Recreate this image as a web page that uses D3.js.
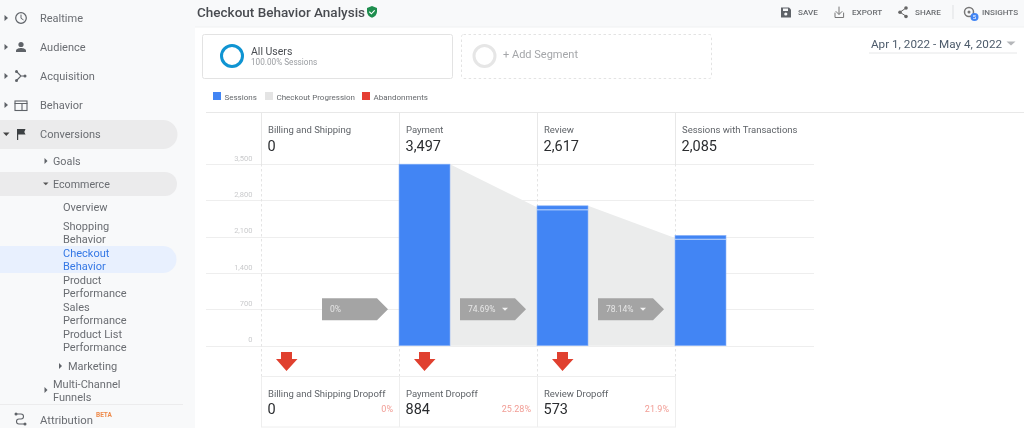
<!DOCTYPE html>
<html><head><meta charset="utf-8">
<script src="https://cdn.jsdelivr.net/npm/d3@7/dist/d3.min.js"></script>
<style>html,body{margin:0;padding:0;background:#fff;overflow:hidden}svg{display:block;font-family:Roboto,sans-serif;filter:blur(.35px)}</style>
</head><body><svg id="c" width="1024" height="428"></svg>
<script>
// ---- data ----
const steps = ["Billing and Shipping","Payment","Review","Sessions with Transactions"];
const sessions = [0,3497,2617,2085];
const barTops = [0,3497,2695,2125];
const markers = [2617,2050];
const progressionEnds = [2666,2075];
const conversionRates = ["0%","74.69%","78.14%"];
const dropoffLabels = ["Billing and Shipping Dropoff","Payment Dropoff","Review Dropoff"];
const dropoffs = [0,884,573];
const dropoffRates = ["0%","25.28%","21.9%"];
const yTicks = [0,700,1400,2100,2800,3500];
const legendLabels = ["Sessions","Checkout Progression","Abandonments"];
const navTop = ["Realtime","Audience","Acquisition","Behavior","Conversions"];
const navSub = ["Overview","Shopping","Behavior","Checkout","Behavior","Product","Performance","Sales","Performance","Product List","Performance"];
const fmt = d3.format(",");

const svg = d3.select("#c");
const txt = (x,y,s,size,fill,o={}) => svg.append("text").attr("x",x).attr("y",y).text(s)
  .attr("font-size",size).attr("fill",fill).attr("font-weight",o.w||400).attr("text-anchor",o.a||"start");
const rect = (x,y,w,h,fill,r=0) => svg.append("rect").attr("x",x).attr("y",y).attr("width",w).attr("height",h).attr("fill",fill).attr("rx",r);
const path = (d,fill,o={}) => svg.append("path").attr("d",d).attr("fill",fill).attr("stroke",o.s||"none").attr("stroke-width",o.sw||0).attr("stroke-linecap","round");

// ---- sidebar & header backgrounds ----
rect(0,0,1024,27,"#f8f9fa");
rect(0,0,195,428,"#f8f9fa");
svg.append("line").attr("x1",195).attr("x2",1024).attr("y1",27).attr("y2",27).attr("stroke","#f0f1f2");

const gray="#5f6368", navText="#6a6d72";
// pills
svg.append("path").attr("d","M0 120H163a14.5 14.5 0 0 1 0 29H0Z").attr("fill","#ebebec");
svg.append("path").attr("d","M0 172H165a12 12 0 0 1 0 24H0Z").attr("fill","#ebebec");
svg.append("path").attr("d","M0 246H163a13.5 13.5 0 0 1 0 27H0Z").attr("fill","#e8f0fe");

const navY=[18,47,76,105,134];
navTop.forEach((n,i)=>{ txt(40,navY[i]+4,n,11,navText);
  if(i<4) path(`M4.5 ${navY[i]-3}l3.5 3l-3.5 3z`,gray);
  else path(`M3 ${navY[i]-1.5}h6.5l-3.2 3.5z`,"#444");
});
// icons
svg.append("circle").attr("cx",21).attr("cy",18).attr("r",5.3).attr("fill","none").attr("stroke",gray).attr("stroke-width",1.2);
path("M21 15v3.3l2.2 1.4","none",{s:gray,sw:1});
svg.append("circle").attr("cx",21).attr("cy",44.5).attr("r",2.6).attr("fill",gray);
path("M16 52v-1.5c0-1.8 3-2.6 5-2.6s5 .8 5 2.6V52z",gray);
path("M17 72l4 4-4 4M21 76h4","none",{s:gray,sw:1.1});
[[16.5,71.5],[16.5,80.5],[25,76]].forEach(p=>svg.append("circle").attr("cx",p[0]).attr("cy",p[1]).attr("r",1.5).attr("fill",gray));
svg.append("rect").attr("x",15).attr("y",101).attr("width",12).attr("height",9.5).attr("fill","none").attr("stroke",gray).attr("stroke-width",1.1);
path("M15 103.5h12M22 103.5v7","none",{s:gray,sw:1.1});
path("M17 129h8.5l-1.2 3 1.2 2.5H18.2V140H17z","#3c4043");

txt(53,165,"Goals",10.8,navText); path("M44.5 158l3 3-3 3z",gray);
txt(53,188,"Ecommerce",10.7,navText); path("M43 182.5h5.5l-2.7 2.8z","#555");
const subY=[211,230,243,257,270,284,297,311,324,338,351];
navSub.forEach((n,i)=>txt(63,subY[i],n,11,(i==3||i==4)?"#3578e5":navText));
txt(68,370,"Marketing",11,navText); path("M59 363l3 3-3 3z",gray);
txt(53,388,"Multi-Channel",11,navText); txt(53,401,"Funnels",11,navText); path("M44.5 387l3 3-3 3z",gray);
svg.append("line").attr("x1",0).attr("x2",183).attr("y1",404.5).attr("y2",404.5).attr("stroke","#ececed");
txt(40,424,"Attribution",11.3,navText);
txt(96,417,"BETA",6.5,"#ee8a4a",{w:700});
path("M16 414h5a2.5 2.5 0 0 1 0 5h-2a2.5 2.5 0 0 0 0 5h5","none",{s:gray,sw:1.1});
[[16,414],[25,424]].forEach(p=>svg.append("circle").attr("cx",p[0]).attr("cy",p[1]).attr("r",1.5).attr("fill",gray));

// ---- title ----
txt(197,17,"Checkout Behavior Analysis",13.5,"#484b50",{w:500});
path("M372 6l5 2v3.5c0 3-2 5.3-5 6.3-3-1-5-3.3-5-6.3V8z","#1e8e4e");
path("M369.6 12l1.8 1.8 3-3.2","none",{s:"#fff",sw:1.1});

// ---- toolbar ----
const tb=[["SAVE",798],["EXPORT",852],["SHARE",915],["INSIGHTS",982]];
tb.forEach(t=>txt(t[1],15,t[0],8.1,"#6b6e72",{w:500}));
path("M781 7.5h8l2 2v8h-10z","#5f6368");
rect(783,8.5,5,2.5,"#f8f9fa"); svg.append("circle").attr("cx",785.8).attr("cy",14).attr("r",1.6).attr("fill","#f8f9fa");
path("M839 7v7M836 11.5l3 3 3-3M835 13v4.5h8.6V13","none",{s:"#777",sw:1});
path("M906 8l-6 4.2 6 4","none",{s:"#666",sw:1});
[[906,8],[900,12.2],[906,16.5]].forEach(p=>svg.append("circle").attr("cx",p[0]).attr("cy",p[1]).attr("r",1.8).attr("fill","#666"));
svg.append("line").attr("x1",953).attr("x2",953).attr("y1",5).attr("y2",19).attr("stroke","#dfe1e3");
svg.append("circle").attr("cx",969).attr("cy",12).attr("r",4.5).attr("fill","none").attr("stroke","#777").attr("stroke-width",1.5);
svg.append("circle").attr("cx",969).attr("cy",12).attr("r",1.5).attr("fill","#777");
svg.append("circle").attr("cx",974.5).attr("cy",17).attr("r",4).attr("fill","#4285f4");
txt(974.5,19.2,"5",6,"#fff",{a:"middle"});

// ---- segments ----
svg.append("rect").attr("x",202.5).attr("y",34.5).attr("width",250).attr("height",44).attr("rx",2).attr("fill","#fff").attr("stroke","#e3e3e3");
svg.append("circle").attr("cx",232).attr("cy",56).attr("r",10.5).attr("fill","none").attr("stroke","#0f94d2").attr("stroke-width",3);
txt(251,54.5,"All Users",10.5,"#4a4d52");
txt(251,65,"100.00% Sessions",8.2,"#9a9da1");
svg.append("rect").attr("x",461.5).attr("y",34.5).attr("width",250).attr("height",44).attr("rx",2).attr("fill","#fff").attr("stroke","#e3e3e3").attr("stroke-dasharray","2.5 2.5");
svg.append("circle").attr("cx",484.5).attr("cy",56).attr("r",10.5).attr("fill","none").attr("stroke","#e6e6e6").attr("stroke-width",3);
txt(503,58,"+ Add Segment",11,"#a4a6a9");
txt(871,47.5,"Apr 1, 2022 - May 4, 2022",11.7,"#4d5b6b");
path("M1006.5 41.5h9l-4.5 4z","#b5b7ba");
svg.append("line").attr("x1",869).attr("x2",1017).attr("y1",53).attr("y2",53).attr("stroke","#e6e7e8");

// ---- legend ----
const lgColor=["#4285f4","#e4e4e4","#e53e33"], lgX=[213,265,362];
legendLabels.forEach((l,i)=>{ rect(lgX[i],92,8,8,lgColor[i]); txt(lgX[i]+11.5,99.5,l,8,"#66696d"); });

// ---- scales ----
const x = d3.scaleBand().domain(steps).range([261,813]).padding(0);
const y = d3.scaleLinear().domain([0,3500]).range([345.7,164]);
const barW = 51;

// ---- structure lines ----
const lineC="#eeeeee";
svg.append("line").attr("x1",206).attr("x2",1024).attr("y1",112.5).attr("y2",112.5).attr("stroke","#e8e8e8");

// grid + axis
const axis = d3.axisLeft(y).tickValues(yTicks).tickSize(0).tickFormat(fmt);
const gAxis = svg.append("g").attr("transform","translate(252.5,0)").call(axis);
gAxis.select(".domain").remove();
gAxis.selectAll("text").attr("font-size",7.5).attr("fill","#c9cacc").attr("font-family","Roboto,sans-serif").attr("x",0).attr("dy","-0.12em").attr("transform","translate(0,-3)");
svg.append("g").selectAll("line").data(yTicks).join("line")
  .attr("x1",206).attr("x2",814).attr("y1",d=>Math.round(y(d))+.5).attr("y2",d=>Math.round(y(d))+.5)
  .attr("stroke",lineC).attr("stroke-width",1);

// column separators
svg.append("g").selectAll("line").data(steps).join("line")
  .attr("x1",d=>x(d)+.5).attr("x2",d=>x(d)+.5).attr("y1",112).attr("y2",164).attr("stroke","#e8e8e8");
svg.append("g").selectAll("line").data(steps).join("line")
  .attr("x1",d=>x(d)+.5).attr("x2",d=>x(d)+.5).attr("y1",164).attr("y2",377).attr("stroke","#e4e4e4").attr("stroke-dasharray","2.5 2.5");

// wedges
const wedgePairs = d3.pairs(steps.slice(1)).map((p,i)=>({from:p[0],to:p[1],a:barTops[i+1],b:progressionEnds[i]}));
svg.append("g").selectAll("path").data(wedgePairs).join("path")
  .attr("fill","#ebecec")
  .attr("d",d=>d3.area().x(p=>p[0]).y0(y(0)).y1(p=>y(p[1]))([[x(d.from)+barW,d.a],[x(d.to),d.b]]));

// bars
svg.append("g").selectAll("rect").data(steps).join("rect")
  .attr("x",d=>x(d)).attr("width",barW)
  .attr("y",(d,i)=>y(barTops[i])).attr("height",(d,i)=>y(0)-y(barTops[i]))
  .attr("fill","#4285f4").attr("stroke","#8fb6f8").attr("stroke-width",.6);
// white marker where progressed sessions begin
svg.append("g").selectAll("line").data(steps.slice(2)).join("line")
  .attr("x1",d=>x(d)).attr("x2",d=>x(d)+barW)
  .attr("y1",(d,i)=>y(markers[i])).attr("y2",(d,i)=>y(markers[i]))
  .attr("stroke","#c4d9fb").attr("stroke-width",1);

// column headers
steps.forEach((s,i)=>{ txt(x(s)+7,132.5,s,9.5,"#5f6368"); txt(x(s)+6.5,151,fmt(sessions[i]),14.5,"#2b2d30"); });

// callouts
const cy=y(700);
svg.append("g").selectAll("path").data(conversionRates).join("path")
  .attr("fill","#a4a4a4")
  .attr("d",(d,i)=>{const tip=x(steps[i+1])-11;return `M${tip-66} ${cy-11}H${tip-11}L${tip} ${cy}L${tip-11} ${cy+11}H${tip-66}Z`;});
conversionRates.forEach((r,i)=>{const tip=x(steps[i+1])-11;
  txt(tip-58,cy+3,r,8.5,"#e6e6e6");
  if(i>0) path(`M${tip-24} ${cy-1.5}h6l-3 3z`,"#f2f2f2");
});

// arrows
svg.append("g").selectAll("path").data(dropoffs).join("path")
  .attr("fill","#e0402f")
  .attr("d",(d,i)=>{const c=x(steps[i])+25.5;return `M${c-5.5} 352h11v7h5.5L${c} 371L${c-10.5} 359h5z`;});

// dropoff cards
svg.append("rect").attr("x",261.5).attr("y",376.5).attr("width",414).attr("height",50.5).attr("fill","none").attr("stroke","#eeeeee");
svg.append("g").selectAll("line").data(steps.slice(1,3)).join("line")
  .attr("x1",d=>x(d)+.5).attr("x2",d=>x(d)+.5).attr("y1",377).attr("y2",427).attr("stroke","#eeeeee");
dropoffLabels.forEach((l,i)=>{const c=x(steps[i]);
  txt(c+7,397,l,9.5,"#5f6368");
  txt(c+6.5,414,fmt(dropoffs[i]),14.5,"#2b2d30");
  txt(c+132,412,dropoffRates[i],9,"#f19c94",{a:"end"});
});
</script></body></html>
